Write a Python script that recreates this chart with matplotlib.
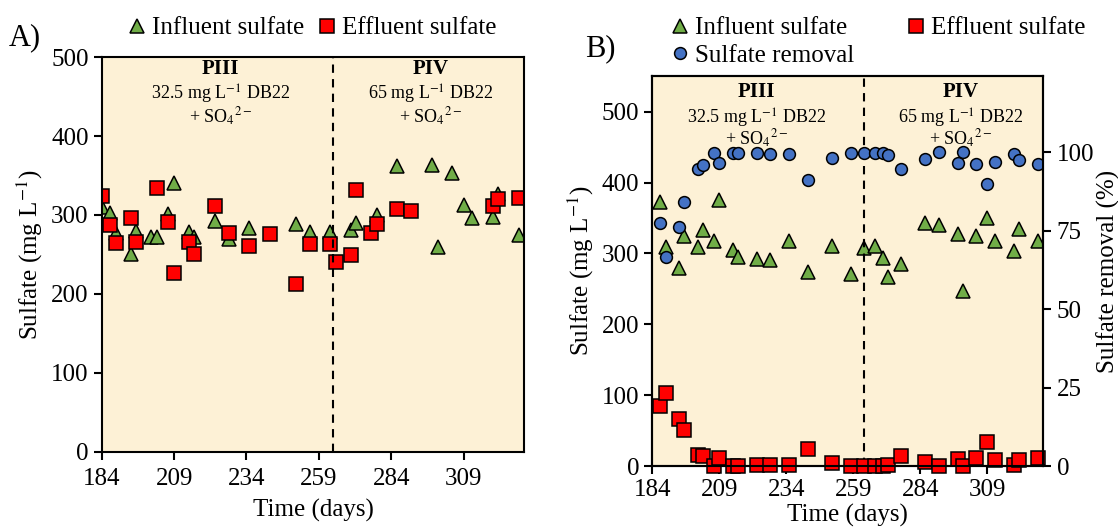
import matplotlib
matplotlib.use("Agg")
import matplotlib.pyplot as plt

plt.rcParams["font.family"] = ["Liberation Serif", "DejaVu Serif"]
plt.rcParams["mathtext.fontset"] = "stix"

# panel A (sulfate in/out)
a_inf_day = [184, 187, 189, 194, 196, 201, 203, 207, 209, 214, 216, 223, 228, 235, 251,
             256, 263, 270, 272, 279, 286, 298, 300, 305, 309, 312, 319, 321, 328]
a_inf = [310, 303, 277, 250, 280, 272, 272, 301, 340, 279, 272, 293, 269, 284, 288,
         279, 279, 281, 290, 300, 362, 363, 260, 353, 313, 296, 297, 327, 275]
a_eff_day = [184, 187, 189, 194, 196, 203, 207, 209, 214, 216, 223, 228, 235, 242,
             251, 256, 263, 265, 270, 272, 277, 279, 286, 291, 319, 321, 328]
a_eff = [324, 287, 265, 296, 266, 334, 291, 227, 266, 251, 312, 277, 261, 276,
         212, 263, 263, 241, 249, 332, 277, 288, 307, 305, 311, 320, 322]

# panel B (sulfate in/out + removal)
b_day = [187, 189, 194, 196, 201, 203, 207, 209, 214, 216, 223, 228, 235, 242, 251, 258,
         263, 267, 270, 272, 277, 286, 291, 298, 300, 305, 309, 312, 319, 321, 328]
b_inf = [373, 309, 280, 325, 309, 333, 318, 375, 305, 295, 292, 290, 317, 274, 310, 271,
         307, 310, 294, 266, 285, 343, 340, 327, 247, 325, 350, 318, 304, 334, 317]
b_eff = [85, 103, 66, 51, 16, 14, 0, 12, 0, 0, 1, 1, 2, 24, 5, 0,
         0, 0, 0, 1, 14, 6, 0, 10, 0, 12, 34, 9, 1, 8, 11]
b_rem = [77.3, 66.7, 76.1, 84.0, 94.6, 95.8, 99.7, 96.6, 99.8, 99.8, 99.7, 99.5, 99.3, 91.0, 98.2, 99.8,
         99.8, 99.8, 99.8, 99.0, 94.7, 97.9, 99.9, 96.6, 99.9, 96.1, 89.9, 97.0, 99.3, 97.6, 96.3]

xticks = [184, 209, 234, 259, 284, 309]
bg = "#fdf1d6"
green = "#70ad47"
red = "#ff0000"
blue = "#4472c4"
fs = 18      # ticks, labels, legend
fa = 13      # period annotations

fig = plt.figure(figsize=(11.18, 5.29), dpi=100)
axA = fig.add_axes([0.091, 0.146, 0.378, 0.746])
axB = fig.add_axes([0.5835, 0.119, 0.3497, 0.737])

tri = dict(marker="^", ms=10, mfc=green, mec="black", mew=1.1, ls="none")
sq = dict(marker="s", ms=9.5, mfc=red, mec="black", mew=1.1, ls="none")
circ = dict(marker="o", ms=8.5, mfc=blue, mec="black", mew=1.1, ls="none")

so4 = "+ SO$_4$$^{2-}$"


def periods(ax, x1, x2, ys):
    for x, name, dose in ((x1, "PIII", "32.5"), (x2, "PIV", "65")):
        ax.text(x, ys[0], name, ha="center", va="center", fontsize=15, fontweight="bold")
        ax.text(x, ys[1], dose + " mg L$^{-1}$ DB22", ha="center", va="center", fontsize=fa)
        ax.text(x, ys[2], so4, ha="center", va="center", fontsize=fa)


# ---- A ----
axA.set_facecolor(bg)
axA.plot(a_inf_day, a_inf, **tri, label="Influent sulfate")
axA.plot(a_eff_day, a_eff, **sq, label="Effluent sulfate")
axA.axvline(264, color="black", ls=(0, (4, 3)), lw=1.5)
axA.set_xlim(184, 330)
axA.set_ylim(0, 500)
axA.set_xticks(xticks)
axA.set_yticks([0, 100, 200, 300, 400, 500])
axA.set_xlabel("Time (days)", fontsize=fs, labelpad=6)
axA.set_ylabel("Sulfate (mg L$^{-1}$)", fontsize=fs)
periods(axA, 225, 297.5, [485, 453, 424])
fig.text(0.008, 0.915, "A)", fontsize=22)
fig.legend(handles=axA.get_lines()[:2], loc="center", bbox_to_anchor=(0.279, 0.947),
           ncol=2, frameon=False, fontsize=fs, handlelength=0.8, handletextpad=0.2,
           columnspacing=0.5)

# ---- B ----
axB.set_facecolor(bg)
axB2 = axB.twinx()
h1, = axB.plot(b_day, b_inf, **tri, label="Influent sulfate")
h2, = axB.plot(b_day, b_eff, **sq, label="Effluent sulfate", clip_on=False, zorder=4)
h3, = axB2.plot(b_day, b_rem, **circ, label="Sulfate removal")
axB.axvline(263, color="black", ls=(0, (4, 3)), lw=1.5)
axB.set_xlim(184, 330)
axB.set_ylim(0, 550)
axB2.set_ylim(0, 124.2)
axB.set_xticks(xticks)
axB.set_yticks([0, 100, 200, 300, 400, 500])
axB2.set_yticks([0, 25, 50, 75, 100])
axB.set_xlabel("Time (days)", fontsize=fs, labelpad=2)
axB.set_ylabel("Sulfate (mg L$^{-1}$)", fontsize=fs)
axB2.set_ylabel("Sulfate removal (%)", fontsize=fs, labelpad=2)
periods(axB, 223, 299.3, [527, 491, 461])
fig.text(0.523, 0.893, "B)", fontsize=22)
fig.legend(handles=[h1, h3, h2], loc="center", bbox_to_anchor=(0.785, 0.921),
           ncol=2, frameon=False, fontsize=fs, handlelength=0.8, handletextpad=0.2,
           columnspacing=2.1, labelspacing=0.2)

for ax in (axA, axB, axB2):
    ax.tick_params(labelsize=fs, direction="out", length=6, width=1.5)
    for s in ax.spines.values():
        s.set_linewidth(1.5)
axA.tick_params(axis="x", pad=6)

fig.savefig("out.png", dpi=100)
